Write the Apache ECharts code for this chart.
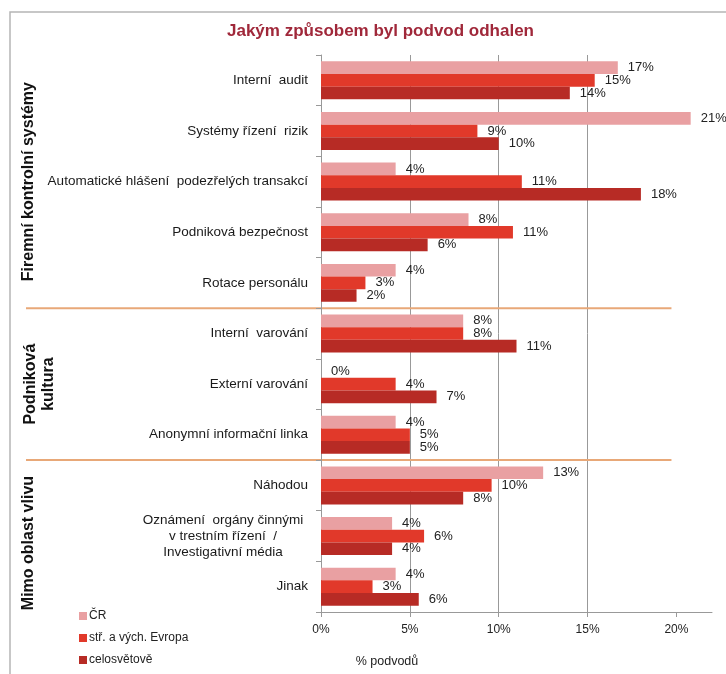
<!DOCTYPE html>
<html>
<head>
<meta charset="utf-8">
<script src="https://cdn.jsdelivr.net/npm/echarts@6/dist/echarts.min.js"></script>
<style>
    html, body { margin: 0; padding: 0; background: #fff; }
    .chart1 { width: 726px; height: 674px; }
</style>
</head>
<body>
<div class="chart1"></div>
<script>
var categories = [
    'Interní  audit',
    'Systémy řízení  rizik',
    'Automatické hlášení  podezřelých transakcí',
    'Podniková bezpečnost',
    'Rotace personálu',
    'Interní  varování',
    'Externí varování',
    'Anonymní informační linka',
    'Náhodou',
    'Oznámení  orgány činnými\nv trestním řízení  /\nInvestigativní média',
    'Jinak'
];
var seriesNames = ['ČR', 'stř. a vých. Evropa', 'celosvětově'];
var dataCR = [16.7, 20.8, 4.2, 8.3, 4.2, 8.0, 0, 4.2, 12.5, 4.0, 4.2];
var dataStred = [15.4, 8.8, 11.3, 10.8, 2.5, 8.0, 4.2, 5.0, 9.6, 5.8, 2.9];
var dataSvet = [14.0, 10.0, 18.0, 6.0, 2.0, 11.0, 6.5, 5.0, 8.0, 4.0, 5.5];
var xTicks = [0, 5, 10, 15, 20];
// skupiny kategorii (od-do indexu)
var groupNames = ['Firemní kontrolní systémy', 'Podniková\nkultura', 'Mimo oblast vlivu'];
var groupFrom = [0, 5, 8];
var groupTo = [4, 7, 10];

var colors = ['#e9a0a2', '#e1392a', '#b72b25'];
var font = 'Liberation Sans, Arial, sans-serif';

var myChart1;
function initChart1() {
    var chartDom = document.querySelector('.chart1');
    myChart1 = echarts.init(chartDom);
    var option;

    var labelStyle = {
        show: true,
        position: 'right',
        distance: 10,
        fontSize: 13,
        fontFamily: font,
        color: '#222',
        formatter: function (p) {
            return Math.round(p.value) + '%';
        }
    };

    function makeSeries(name, data, i) {
        return {
            name: name,
            type: 'bar',
            data: data,
            barGap: 0,
            barCategoryGap: '25%',
            itemStyle: { color: colors[i] },
            label: labelStyle
        };
    }

    option = {
        animation: false,
        color: colors,
        title: {
            text: 'Jakým způsobem byl podvod odhalen',
            left: 222,
            top: 18,
            textStyle: {
                color: '#a0283a',
                fontSize: 17,
                fontWeight: 'bold',
                fontFamily: font
            }
        },
        legend: {
            data: seriesNames,
            orient: 'vertical',
            left: 74,
            top: 605,
            itemWidth: 8,
            itemHeight: 8,
            itemGap: 10,
            icon: 'rect',
            textStyle: { fontSize: 12, color: '#222', fontFamily: font, padding: [0, 0, 0, -3] },
            selectedMode: false
        },
        grid: {
            left: 321,
            right: 14,
            top: 55,
            bottom: 62,
            containLabel: false
        },
        xAxis: {
            type: 'value',
            min: 0,
            max: 22,
            interval: 5,
            axisLine: { show: true, lineStyle: { color: '#999' } },
            axisTick: { show: true, length: 5, lineStyle: { color: '#999' }, customValues: xTicks },
            axisLabel: {
                fontSize: 12,
                color: '#222',
                fontFamily: font,
                margin: 12,
                customValues: xTicks,
                formatter: '{value}%'
            },
            splitLine: { show: true, showMaxLine: false, lineStyle: { color: '#999' } }
        },
        yAxis: {
            type: 'category',
            data: categories,
            inverse: true,
            axisLine: { show: true, lineStyle: { color: '#999' } },
            axisTick: { show: true, length: 5, lineStyle: { color: '#999' } },
            axisLabel: {
                fontSize: 13.5,
                color: '#1a1a1a',
                fontFamily: font,
                margin: 13,
                lineHeight: 16,
                formatter: function (value) {
                    if (value.indexOf('\n') >= 0) {
                        return value.split('\n').map(function (s) {
                            return '{m|' + s + '}';
                        }).join('\n');
                    }
                    return value;
                },
                rich: {
                    m: { align: 'center', width: 170, fontSize: 13.5, lineHeight: 16, fontFamily: font, color: '#1a1a1a' }
                }
            }
        },
        series: [
            makeSeries(seriesNames[0], dataCR, 0),
            makeSeries(seriesNames[1], dataStred, 1),
            makeSeries(seriesNames[2], dataSvet, 2)
        ]
    };

    option && myChart1.setOption(option);

    // oddelovaci cary a popisky skupin
    var graphics = [{
        type: 'rect',
        shape: { x: 10, y: 12, width: 740, height: 700 },
        style: { fill: null, stroke: '#b5b5b5', lineWidth: 1.5 },
        silent: true
    }];
    function catY(i) {
        return myChart1.convertToPixel({ yAxisIndex: 0 }, i);
    }
    var x20 = myChart1.convertToPixel({ xAxisIndex: 0 }, 20);
    var step = catY(1) - catY(0);
    for (var g = 0; g < groupNames.length; g++) {
        var top = catY(groupFrom[g]) - step / 2;
        var bottom = catY(groupTo[g]) + step / 2;
        if (g > 0) {
            graphics.push({
                type: 'line',
                shape: { x1: 26, y1: top, x2: x20 - 5, y2: top },
                style: { stroke: '#e8a878', lineWidth: 2 },
                silent: true
            });
        }
        graphics.push({
            type: 'text',
            x: g === 1 ? 40 : 29,
            y: (top + bottom) / 2 + (g === 2 ? 7 : 0),
            rotation: Math.PI / 2,
            style: {
                text: groupNames[g],
                fontSize: 16,
                fontWeight: 'bold',
                fontFamily: font,
                fill: '#111',
                align: 'center',
                verticalAlign: 'middle',
                lineHeight: 18
            },
            silent: true
        });
    }
    graphics.push({
        type: 'text',
        x: 387,
        y: 662,
        style: {
            text: '% podvodů',
            fontSize: 12.5,
            fontFamily: font,
            fill: '#222',
            align: 'center',
            verticalAlign: 'middle'
        },
        silent: true
    });
    myChart1.setOption({ graphic: graphics });
}

document.addEventListener('DOMContentLoaded', function () {
    initChart1();
});

window.addEventListener('resize', () => {
    myChart1.resize();
});
</script>
</body>
</html>
